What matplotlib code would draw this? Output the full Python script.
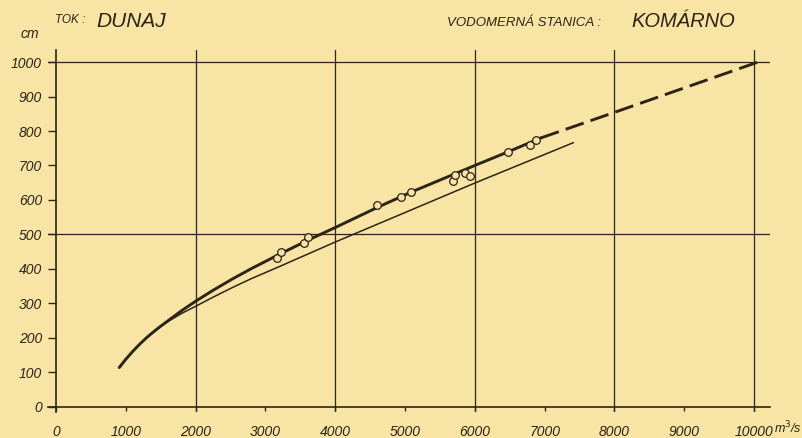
import matplotlib.pyplot as plt

# rating curve Dunaj - Komarno
q_curve = [906, 1000, 1100, 1200, 1300, 1400, 1500, 1600, 1800, 2013, 2250, 2537, 2800, 3157, 3615, 4000, 4600, 5079, 6000, 6481, 6948]
h_curve = [114, 138, 161, 182, 201, 218, 234, 249, 279, 308, 338, 372, 401, 438, 484, 520, 578, 622, 700, 740, 780]

q_extra = [6948, 8000, 10072]
h_extra = [780, 854, 1001]

q_old = [906, 1000, 1100, 1200, 1300, 1400, 1500, 1600, 1800, 2013, 2250, 2537, 2800, 3157, 4000, 6000, 7410]
h_old = [114, 138, 161, 182, 201, 218, 233, 247, 271, 293, 318, 347, 372, 403, 478, 649, 766]

q_meas = [3166, 3229, 3548, 3615, 4602, 4945, 5079, 5684, 5718, 5861, 5937, 6481, 6795, 6877]
h_meas = [433, 450, 474, 494, 584, 610, 623, 656, 672, 679, 670, 738, 759, 774]

x_ticks = list(range(0, 10001, 1000))
y_ticks = list(range(0, 1001, 100))

bg = '#f8e4a4'
ink = '#2b2417'
plt.rcParams['font.family'] = ['Liberation Sans', 'DejaVu Sans']

fig = plt.figure(figsize=(8.03, 4.38), dpi=100, facecolor=bg)
ax = fig.add_axes([48 / 803, 26 / 438, 722 / 803, 362 / 438])
ax.set_facecolor(bg)
ax.set_xlim(-115, 10230)
ax.set_ylim(-15, 1035)

for s in ['top', 'right']:
    ax.spines[s].set_visible(False)
ax.spines['left'].set_position(('data', 0))
ax.spines['bottom'].set_position(('data', 0))
for s in ['left', 'bottom']:
    ax.spines[s].set_color(ink)
    ax.spines[s].set_linewidth(1.2)

# grid
for y in [500, 1000]:
    ax.axhline(y, color=ink, lw=0.9, zorder=1)
for x in [2000, 4000, 6000, 8000, 10000]:
    ax.axvline(x, color=ink, lw=0.9, zorder=1)

ax.set_xticks(x_ticks)
ax.set_xticklabels([str(v) for v in x_ticks], style='italic', fontsize=10, color=ink)
ax.set_yticks(y_ticks)
ax.set_yticklabels([str(v) for v in y_ticks], style='italic', fontsize=10, color=ink)
ax.tick_params(axis='x', direction='out', length=3, width=1, color=ink, pad=10)
ax.tick_params(axis='y', direction='out', length=6, width=1, color=ink, pad=4)

ax.plot(q_old, h_old, color=ink, lw=1.1, zorder=3, solid_joinstyle='round')
ax.plot(q_curve, h_curve, color=ink, lw=2.1, zorder=3, solid_capstyle='round', solid_joinstyle='round')
ax.plot(q_extra, h_extra, color=ink, lw=2.1, zorder=3, dashes=(6.5, 2.5))
ax.plot(q_meas, h_meas, 'o', ms=5.5, mfc=bg, mec=ink, mew=0.9, zorder=4)

ax.text(-380, 1060, 'cm', fontsize=10, color=ink, style='italic', ha='center', va='bottom', clip_on=False)
ax.text(10290, -60, 'm$^3$/s', fontsize=9, color=ink, style='italic', ha='left', va='center', clip_on=False)

fig.text(55 / 803, 1 - 23 / 438, 'TOK :', fontsize=8.5, style='italic', color=ink)
fig.text(96 / 803, 1 - 27 / 438, 'DUNAJ', fontsize=15, style='italic', color=ink)
fig.text(447 / 803, 1 - 26 / 438, 'VODOMERNÁ STANICA :', fontsize=9.5, style='italic', color=ink)
fig.text(631 / 803, 1 - 27 / 438, 'KOMÁRNO', fontsize=14.5, style='italic', color=ink)

fig.savefig('out.png', dpi=100, facecolor=bg)
